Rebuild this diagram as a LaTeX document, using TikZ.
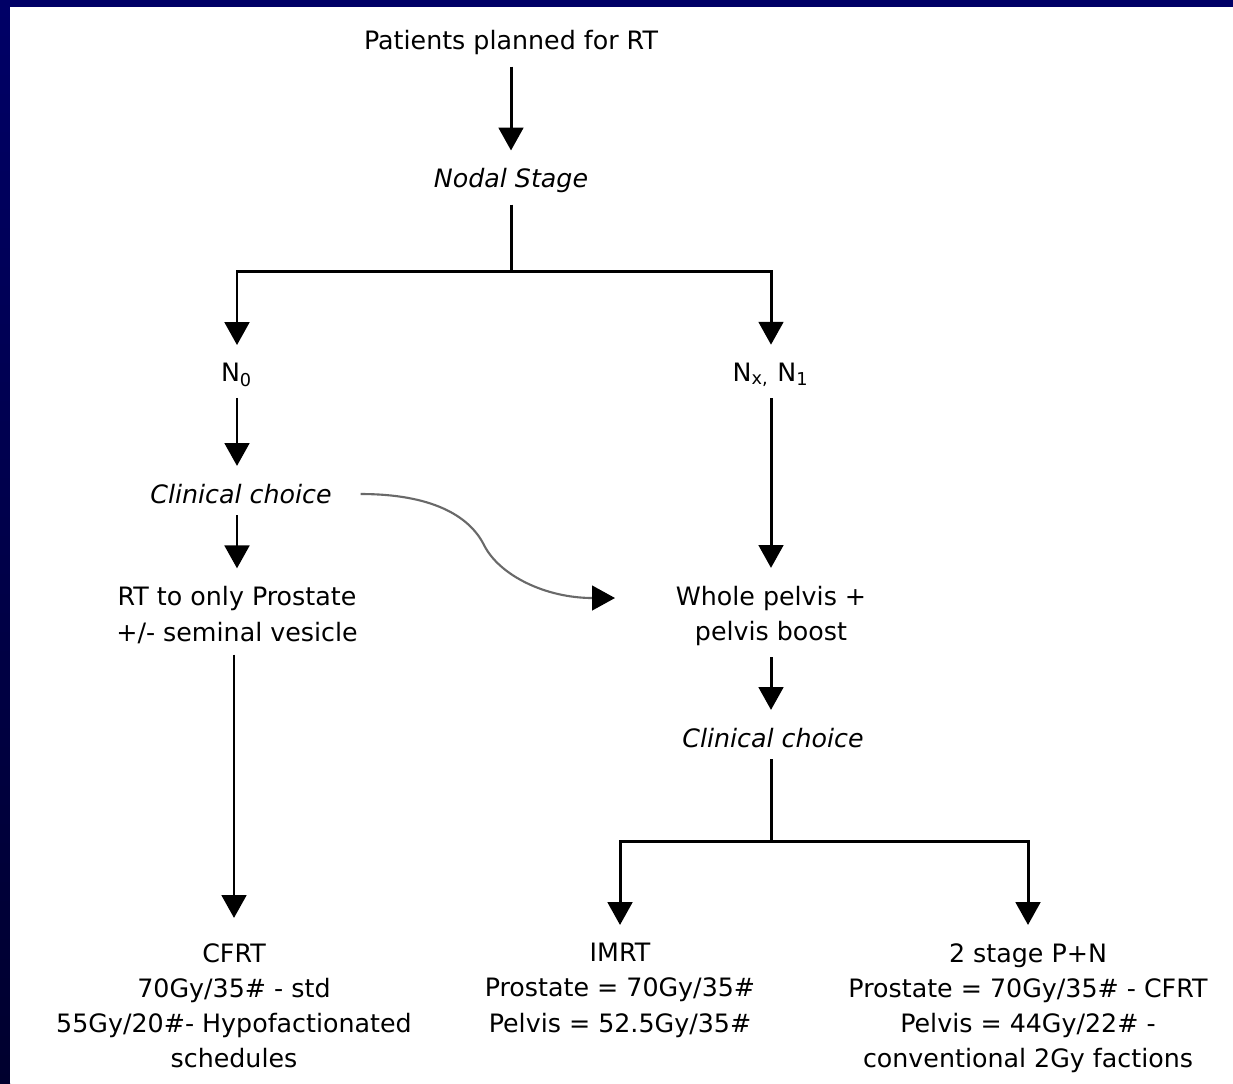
\documentclass[tikz,border=0pt]{standalone}
\usepackage{fontspec}
\setmainfont{DejaVu Sans}
\usetikzlibrary{arrows.meta}
\definecolor{framenavy}{RGB}{0,0,102}
\definecolor{framedark}{RGB}{0,0,46}
\definecolor{swoopgray}{RGB}{105,105,105}
\tikzset{
	lbl/.style={align=center, inner sep=3pt, font=\fontsize{7.2}{10}\selectfont},
	choice/.style={lbl, font=\fontsize{7.2}{10}\selectfont\itshape},
	trunk/.style={line width=0.85pt},
	flow/.style={trunk, shorten >=2pt, -{Triangle[width=7pt,length=6.5pt]}},
	swoop/.style={draw=swoopgray, line width=0.6pt, -{Triangle[width=7pt,length=6.5pt,color=black]}}
}
\begin{document}
\begin{tikzpicture}[x=0.01cm,y=-0.01cm]
			\fill[framenavy] (0,0) rectangle (1233,1083);
			\shade[top color=framenavy, bottom color=framedark] (0,7) rectangle (10,1083);
			\fill[white] (10,7) rectangle (1233,1083);
			\node[lbl] (top) at (511,43) {Patients planned for RT};
			\node[choice] (nodal) at (511,181) {Nodal Stage};
			\coordinate (split1) at (511,271);
			\node[lbl] (n0) at (237,375) {N\textsubscript{0}};
			\node[lbl] (nx) at (771,375) {N\textsubscript{x,} N\textsubscript{1}};
			\node[choice] (cc1) at (241,494) {Clinical choice};
			\node[lbl] (rt) at (237,615) {RT to only Prostate\\+/- seminal vesicle};
			\node[lbl, anchor=north] (cfrt) at (234,932) {CFRT\\70Gy/35\# - std\\55Gy/20\#- Hypofactionated\\schedules};
			\node[lbl] (wp) at (771,616) {Whole pelvis +\\pelvis boost};
			\node[choice] (cc2) at (773,738) {Clinical choice};
			\coordinate (split2) at (771,841);
			\node[lbl, anchor=north] (imrt) at (620,932) {IMRT\\Prostate = 70Gy/35\#\\Pelvis = 52.5Gy/35\#};
			\node[lbl, anchor=north] (pn) at (1028,932) {2 stage P+N\\Prostate = 70Gy/35\# - CFRT\\Pelvis = 44Gy/22\# -\\conventional 2Gy factions};
			\coordinate (swoopmid) at (484,545);
			\coordinate (swoopend) at (615,598);
			\draw[flow] (top) -- (nodal);
			\draw[trunk] (nodal) -- (split1);
			\draw[flow] (split1) -| (n0);
			\draw[flow] (split1) -| (nx);
			\draw[flow] (n0) -- (n0 |- cc1.north);
			\draw[flow] (cc1.south -| n0) -- (rt);
			\draw[flow, shorten >=4pt] (rt.south -| cfrt) -- (cfrt);
			\draw[flow] (nx) -- (wp);
			\draw[flow] (wp) -- (wp |- cc2.north);
			\draw[trunk] (cc2.south -| split2) -- (split2);
			\draw[flow] (split2) -| (imrt);
			\draw[flow] (split2) -| (pn);
			\draw[swoop] ([xshift=5pt]cc1.east) .. controls +(70,0) and +(-15,-30) .. (swoopmid) .. controls +(15,30) and +(-70,0) .. (swoopend);
\end{tikzpicture}
\end{document}
